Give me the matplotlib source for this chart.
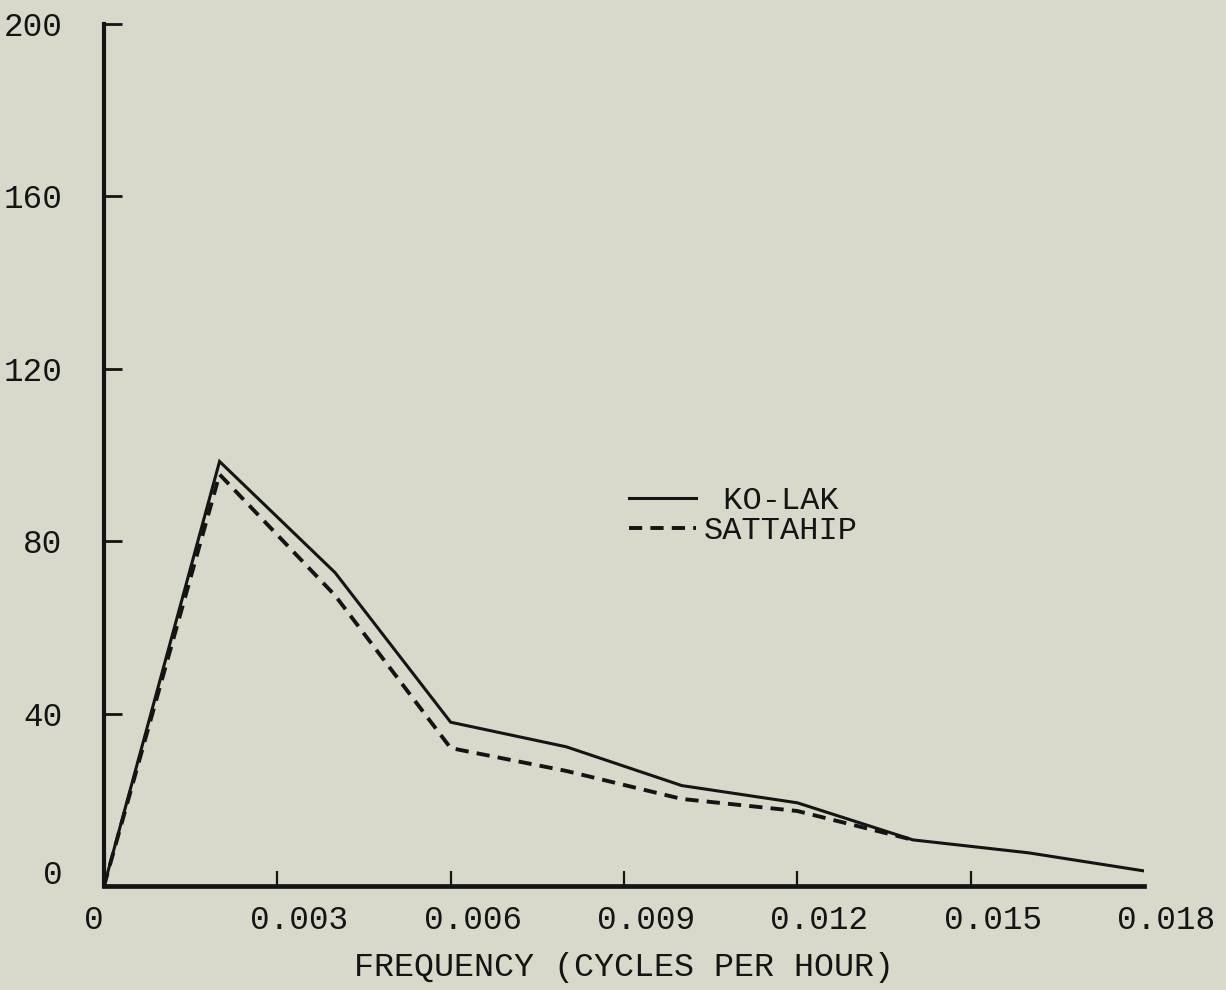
import matplotlib
matplotlib.use("Agg")
import matplotlib.pyplot as plt
from matplotlib.transforms import ScaledTranslation

# ---- data ----
freq_kolak = [0.0, 0.002, 0.004, 0.006, 0.008, 0.010, 0.012, 0.014, 0.016, 0.018]
kolak = [0.0, 98.5, 72.7, 38.0, 32.3, 23.3, 19.3, 10.7, 7.7, 3.5]
freq_satt = [0.0, 0.002, 0.004, 0.006, 0.008, 0.010, 0.012, 0.014]
sattahip = [0.0, 95.5, 67.4, 32.0, 26.7, 20.2, 17.4, 10.7]

x_ticks = [0.0, 0.003, 0.006, 0.009, 0.012, 0.015, 0.018]
x_tick_labels = ["0", "0.003", "0.006", "0.009", "0.012", "0.015", "0.018"]
y_ticks = [0, 40, 80, 120, 160, 200]
y_tick_labels = ["0", "40", "80", "120", "160", "200"]
xlabel = "FREQUENCY (CYCLES PER HOUR)"
series_names = ["KO-LAK", "SATTAHIP"]

BG = "#d8d9ca"
INK = "#141414"
FONT = "Liberation Mono"

W, H = 1226, 990
fig = plt.figure(figsize=(W / 100, H / 100), dpi=100, facecolor=BG)
left_px, right_px, bottom_px, top_px = 104, 1144, 886, 24
ax = fig.add_axes([left_px / W, (H - bottom_px) / H,
                   (right_px - left_px) / W, (bottom_px - top_px) / H])
ax.set_facecolor(BG)

ax.plot(freq_kolak, kolak, color=INK, lw=2.2, solid_joinstyle="miter",
        label=" " + series_names[0])
ax.plot(freq_satt, sattahip, color=INK, lw=2.8, dashes=(3.4, 2.1),
        label=series_names[1])

ax.set_xlim(0, 0.018)
ax.set_ylim(0, 200)

for s in ["top", "right"]:
    ax.spines[s].set_visible(False)
ax.spines["left"].set_linewidth(3.0)
ax.spines["bottom"].set_linewidth(3.4)
ax.spines["left"].set_color(INK)
ax.spines["bottom"].set_color(INK)

# x ticks: labels at all positions, tick marks only at 0.003..0.015
ax.set_xticks(x_ticks)
ax.set_xticklabels(x_tick_labels)
ax.tick_params(axis="x", which="major", direction="in", length=11,
               width=1.6, color=INK, pad=14, labelsize=23.5, labelcolor=INK)
xt = ax.xaxis.get_major_ticks()
xt[0].tick1line.set_visible(False)
xt[-1].tick1line.set_visible(False)

ax.set_yticks(y_ticks)
ax.set_yticklabels(y_tick_labels)
ax.tick_params(axis="y", which="major", direction="in", length=13,
               width=2.0, color=INK, pad=30, labelsize=23.5, labelcolor=INK)

for lbl in ax.get_xticklabels() + ax.get_yticklabels():
    lbl.set_fontfamily(FONT)

# small offsets as in the typed original
for lbl in ax.get_xticklabels():
    dx = -0.10 if lbl.get_text() == "0" else 0.22
    lbl.set_transform(lbl.get_transform() + ScaledTranslation(dx, 0, fig.dpi_scale_trans))
for lbl in ax.get_yticklabels():
    if lbl.get_text() == "0":
        lbl.set_transform(lbl.get_transform() + ScaledTranslation(0, 0.14, fig.dpi_scale_trans))

ax.set_xlabel(xlabel, fontfamily=FONT, fontsize=24, color=INK, labelpad=11)

leg = ax.legend(loc="center left", bbox_to_anchor=(629 / W, (H - 516) / H),
                bbox_transform=fig.transFigure, frameon=False,
                prop={"family": FONT, "size": 23},
                handlelength=2.1, handletextpad=0.25, labelspacing=0.0,
                borderpad=0, borderaxespad=0)
for t in leg.get_texts():
    t.set_color(INK)

fig.savefig("out.png", dpi=100, facecolor=BG)
